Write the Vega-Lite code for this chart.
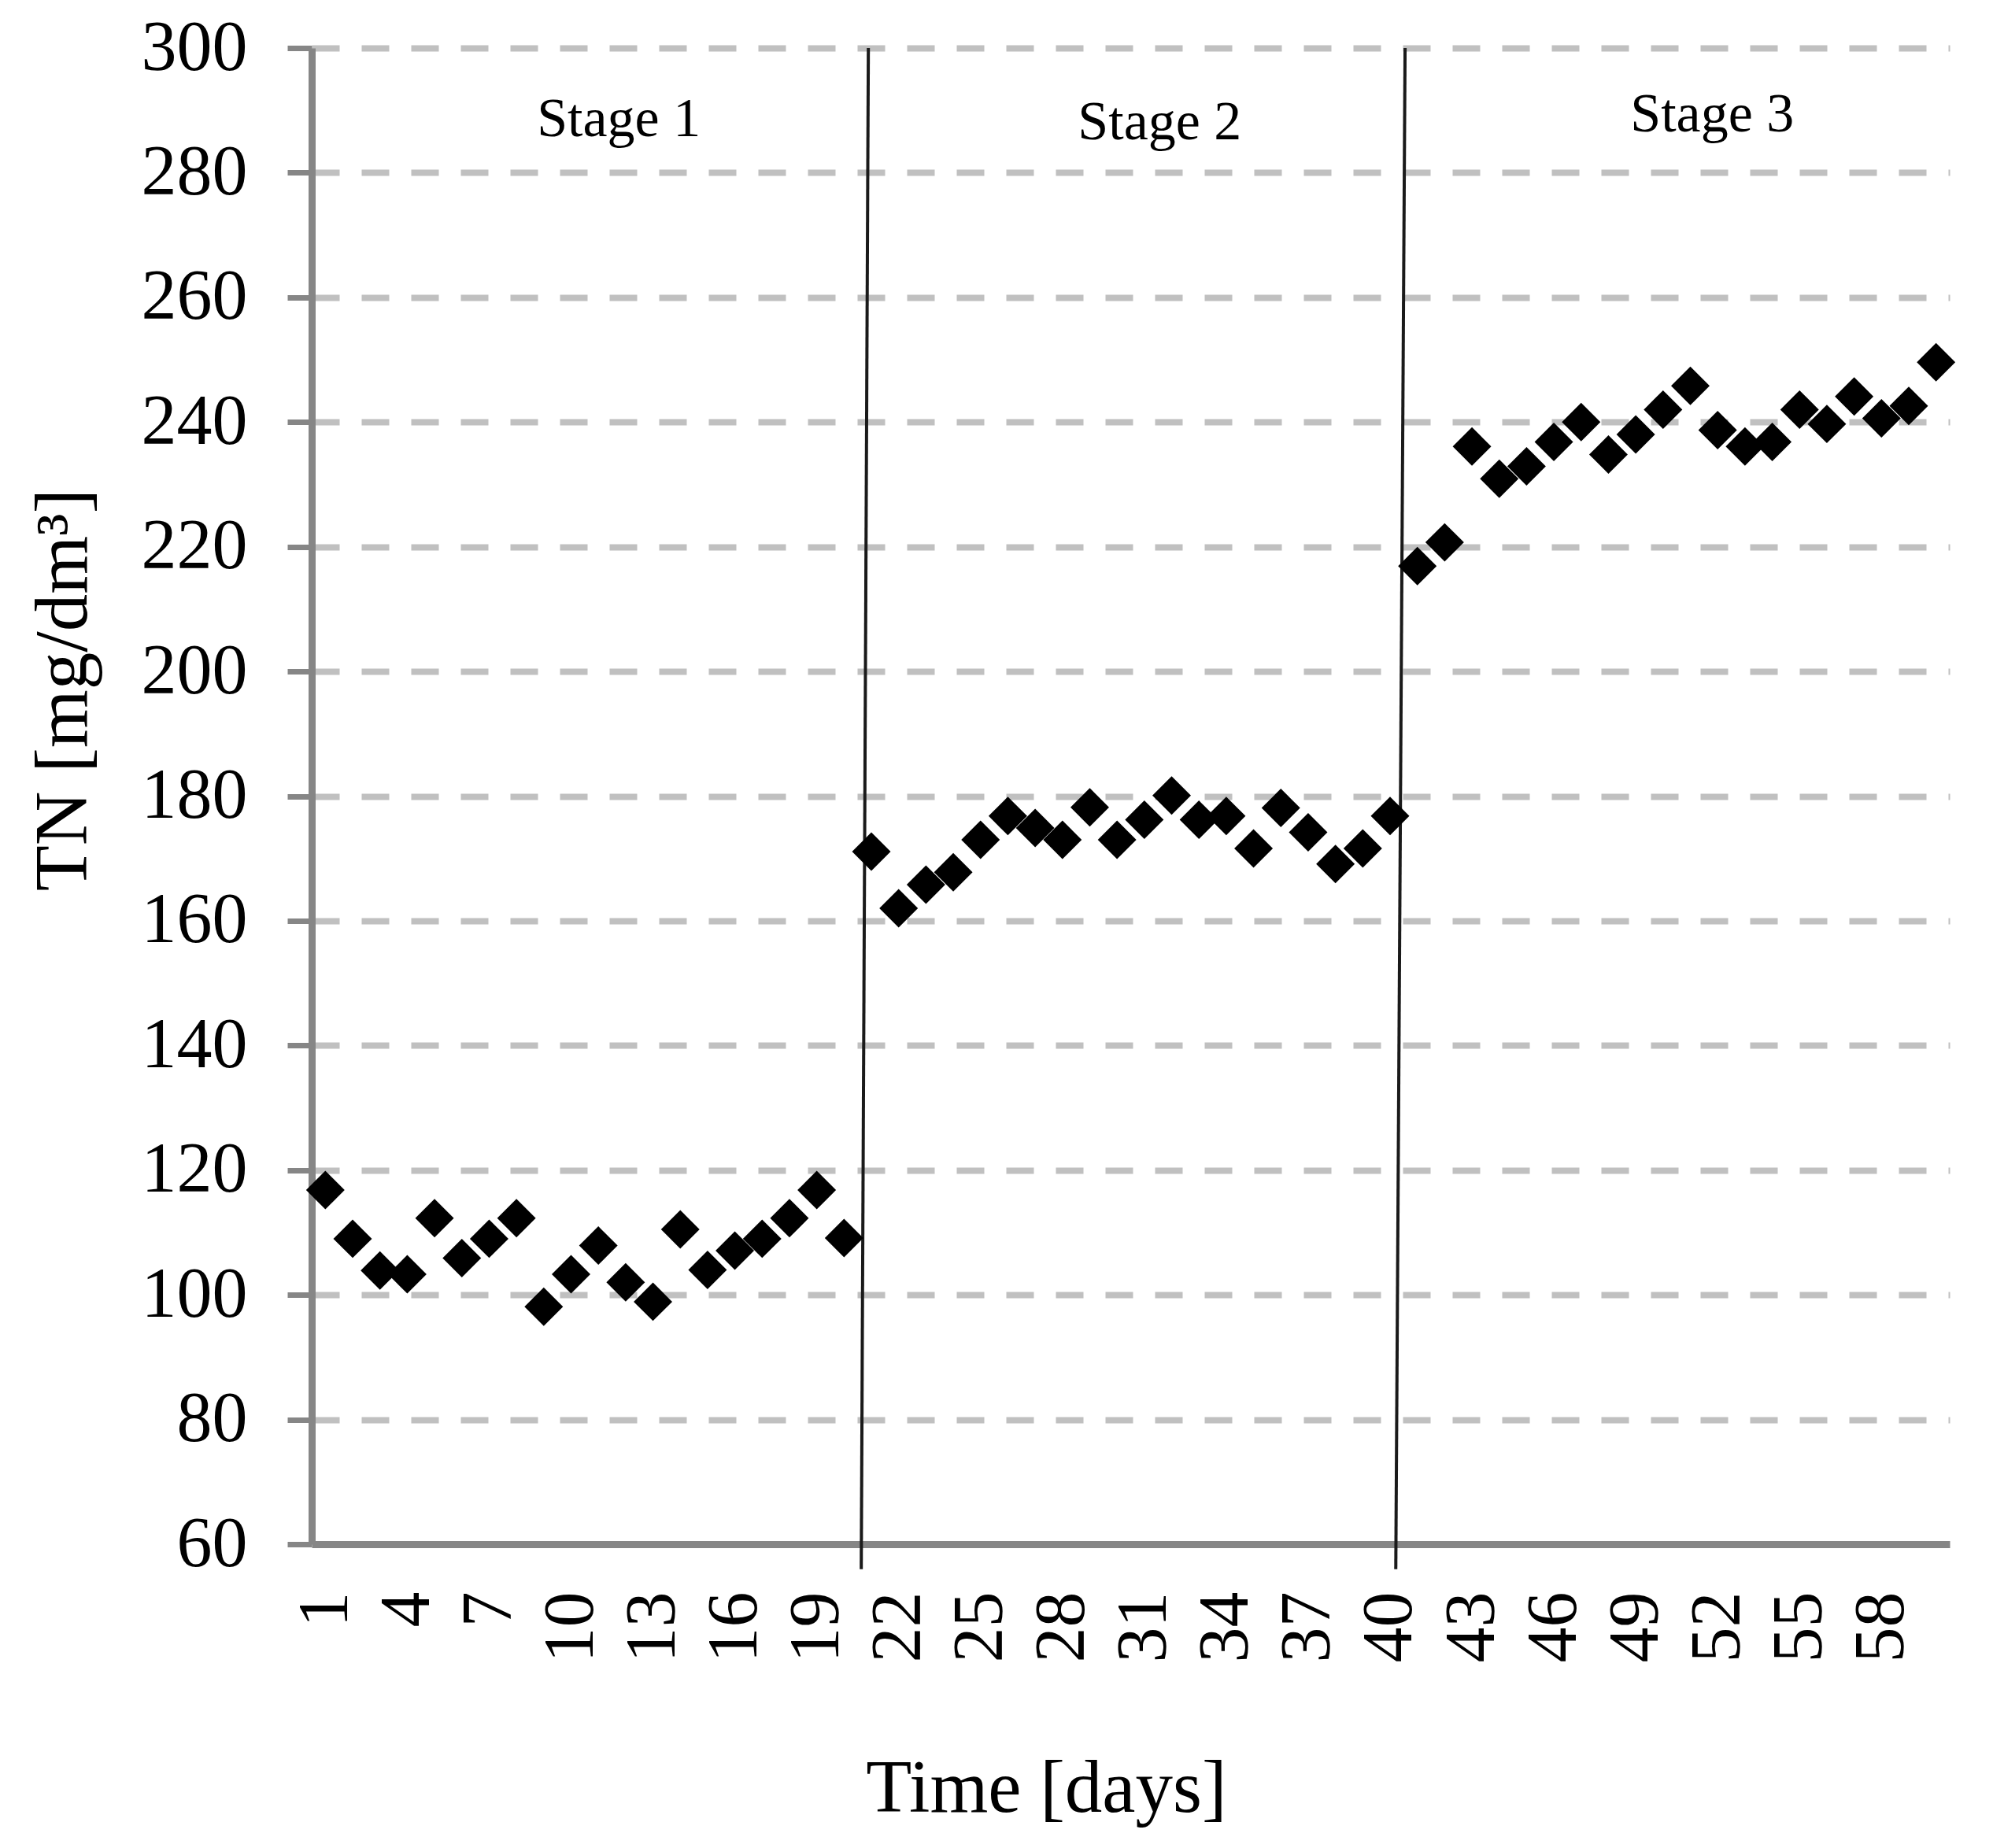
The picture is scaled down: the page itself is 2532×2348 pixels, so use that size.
{
  "$schema": "https://vega.github.io/schema/vega-lite/v6.json",
  "width": 2081,
  "height": 1901,
  "autosize": {"type": "none"},
  "padding": {"left": 396, "top": 61, "right": 55, "bottom": 386},
  "background": "white",
  "config": {"view": {"stroke": null}, "font": "Liberation Serif"},
  "layer": [
    {
      "data": {"values": [
        {"day": 20.89, "day2": 20.63, "TN": 300, "TN2": 56},
        {"day": 40.55, "day2": 40.21, "TN": 300, "TN2": 56}
      ]},
      "mark": {"type": "rule", "color": "#1a1a1a", "strokeWidth": 4, "clip": false},
      "encoding": {
        "x": {"field": "day", "type": "quantitative", "scale": {"domain": [0.5, 60.5], "nice": false, "zero": false}},
        "x2": {"field": "day2"},
        "y": {"field": "TN", "type": "quantitative", "scale": {"domain": [60, 300], "nice": false, "zero": false}},
        "y2": {"field": "TN2"}
      }
    },
    {
      "data": {"values": [
        {"day": 1, "TN": 116.8}, {"day": 2, "TN": 109.0}, {"day": 3, "TN": 103.9}, {"day": 4, "TN": 103.3},
        {"day": 5, "TN": 112.3}, {"day": 6, "TN": 105.9}, {"day": 7, "TN": 109.0}, {"day": 8, "TN": 112.3},
        {"day": 9, "TN": 98.1}, {"day": 10, "TN": 103.3}, {"day": 11, "TN": 107.9}, {"day": 12, "TN": 102.0},
        {"day": 13, "TN": 98.9}, {"day": 14, "TN": 110.5}, {"day": 15, "TN": 104.0}, {"day": 16, "TN": 107.1},
        {"day": 17, "TN": 109.0}, {"day": 18, "TN": 112.3}, {"day": 19, "TN": 116.8}, {"day": 20, "TN": 109.1},
        {"day": 21, "TN": 171.1}, {"day": 22, "TN": 162.0}, {"day": 23, "TN": 165.8}, {"day": 24, "TN": 167.8},
        {"day": 25, "TN": 173.0}, {"day": 26, "TN": 176.8}, {"day": 27, "TN": 174.9}, {"day": 28, "TN": 173.0},
        {"day": 29, "TN": 178.2}, {"day": 30, "TN": 173.0}, {"day": 31, "TN": 176.2}, {"day": 32, "TN": 180.1},
        {"day": 33, "TN": 176.2}, {"day": 34, "TN": 176.8}, {"day": 35, "TN": 171.6}, {"day": 36, "TN": 178.1},
        {"day": 37, "TN": 174.2}, {"day": 38, "TN": 169.1}, {"day": 39, "TN": 171.6}, {"day": 40, "TN": 176.8},
        {"day": 41, "TN": 216.9}, {"day": 42, "TN": 220.7}, {"day": 43, "TN": 236.1}, {"day": 44, "TN": 230.9},
        {"day": 45, "TN": 232.9}, {"day": 46, "TN": 236.8}, {"day": 47, "TN": 240.0}, {"day": 48, "TN": 234.8},
        {"day": 49, "TN": 238.0}, {"day": 50, "TN": 242.0}, {"day": 51, "TN": 245.8}, {"day": 52, "TN": 238.7},
        {"day": 53, "TN": 236.1}, {"day": 54, "TN": 236.8}, {"day": 55, "TN": 242.0}, {"day": 56, "TN": 239.7},
        {"day": 57, "TN": 244.1}, {"day": 58, "TN": 240.6}, {"day": 59, "TN": 242.6}, {"day": 60, "TN": 249.6}
      ]},
      "mark": {"type": "point", "shape": "diamond", "filled": true, "color": "#000000", "opacity": 1, "size": 2400},
      "encoding": {
        "x": {
          "field": "day", "type": "quantitative",
          "scale": {"domain": [0.5, 60.5], "nice": false, "zero": false},
          "axis": {
            "values": [1, 4, 7, 10, 13, 16, 19, 22, 25, 28, 31, 34, 37, 40, 43, 46, 49, 52, 55, 58],
            "format": "d",
            "grid": false,
            "ticks": false,
            "tickSize": 0,
            "labelAngle": -90,
            "labelAlign": "right",
            "labelBaseline": "middle",
            "labelFont": "Liberation Serif",
            "labelFontSize": 90,
            "labelColor": "#000000",
            "labelPadding": 60,
            "labelFlush": false,
            "labelOverlap": false,
            "domainColor": "#868686",
            "domainWidth": 9,
            "title": "Time [days]",
            "titleFont": "Liberation Serif",
            "titleFontSize": 95,
            "titleFontWeight": "normal",
            "titleColor": "#000000",
            "titleX": 933,
            "titleY": 339,
            "titleAlign": "center",
            "titleBaseline": "alphabetic"
          }
        },
        "y": {
          "field": "TN", "type": "quantitative",
          "scale": {"domain": [60, 300], "nice": false, "zero": false},
          "axis": {
            "values": [60, 80, 100, 120, 140, 160, 180, 200, 220, 240, 260, 280, 300],
            "grid": true,
            "gridColor": "#c0c0c0",
            "gridDash": [35, 28],
            "gridWidth": 8,
            "gridOpacity": {"condition": {"test": "datum.value == 60", "value": 0}, "value": 1},
            "tickSize": 31,
            "tickWidth": 7,
            "tickColor": "#868686",
            "domainColor": "#868686",
            "domainWidth": 9,
            "labelFont": "Liberation Serif",
            "labelFontSize": 90,
            "labelColor": "#000000",
            "labelPadding": 51,
            "title": "TN [mg/dm³]",
            "titleFont": "Liberation Serif",
            "titleFontSize": 95,
            "titleFontWeight": "normal",
            "titleColor": "#000000",
            "titleAngle": -90,
            "titleX": -287,
            "titleY": 815,
            "titleAlign": "center",
            "titleBaseline": "alphabetic"
          }
        }
      }
    },
    {
      "data": {"values": [
        {"label": "Stage 1", "day": 11.75, "TN": 285.9},
        {"label": "Stage 2", "day": 31.56, "TN": 285.3},
        {"label": "Stage 3", "day": 51.8, "TN": 286.6}
      ]},
      "mark": {"type": "text", "font": "Liberation Serif", "fontSize": 70, "align": "center", "baseline": "alphabetic", "color": "#000000"},
      "encoding": {
        "x": {"field": "day", "type": "quantitative", "scale": {"domain": [0.5, 60.5], "nice": false, "zero": false}},
        "y": {"field": "TN", "type": "quantitative", "scale": {"domain": [60, 300], "nice": false, "zero": false}},
        "text": {"field": "label"}
      }
    }
  ]
}
